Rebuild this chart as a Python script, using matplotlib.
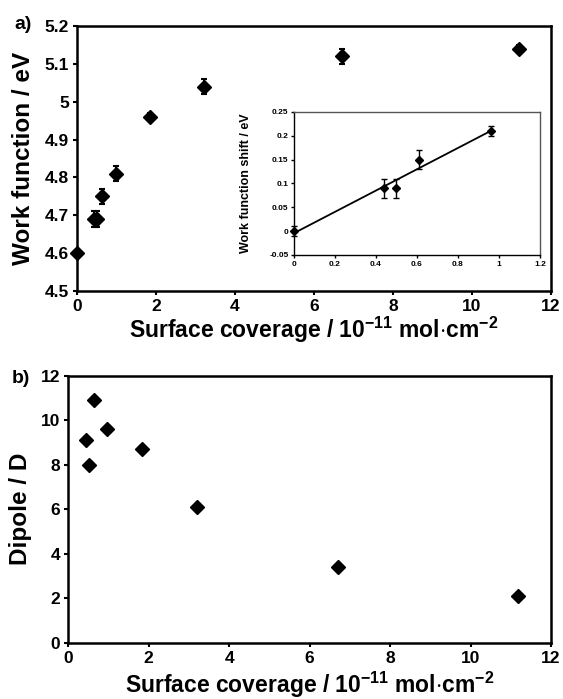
import numpy as np
import matplotlib
matplotlib.use("Agg")
import matplotlib.pyplot as plt
from matplotlib.ticker import FuncFormatter, MultipleLocator

plt.rcParams['font.family'] = ['Liberation Sans', 'DejaVu Sans']
plt.rcParams['font.weight'] = 'bold'
plt.rcParams['mathtext.fontset'] = 'custom'
plt.rcParams['mathtext.rm'] = 'Liberation Sans:bold'
plt.rcParams['mathtext.bf'] = 'Liberation Sans:bold'
plt.rcParams['mathtext.default'] = 'rm'

# panel a: work function vs surface coverage
coverage_a = [0.0, 0.44, 0.50, 0.63, 0.99, 1.84, 3.21, 6.71, 11.19]
work_function = [4.60, 4.69, 4.69, 4.75, 4.81, 4.96, 5.04, 5.12, 5.14]
work_function_err = [0.005, 0.02, 0.02, 0.02, 0.02, 0.01, 0.02, 0.02, 0.01]

# inset: work function shift vs coverage
coverage_inset = [0.0, 0.44, 0.50, 0.61, 0.96]
wf_shift = [0.0, 0.09, 0.09, 0.15, 0.21]
wf_shift_err = [0.01, 0.02, 0.02, 0.02, 0.01]

# panel b: dipole vs surface coverage
coverage_b = [0.45, 0.52, 0.63, 0.97, 1.84, 3.19, 6.70, 11.18]
dipole = [9.1, 8.0, 10.9, 9.6, 8.7, 6.1, 3.4, 2.1]

xlabel = r'Surface coverage / 10$^{-11}$ mol$\cdot$cm$^{-2}$'
fmt = FuncFormatter(lambda v, p: '%g' % round(v, 4))

fig = plt.figure(figsize=(5.63, 6.99), dpi=100)
ax_a = fig.add_axes([0.1368, 0.5837, 0.8419, 0.3791])
ax_b = fig.add_axes([0.1213, 0.0805, 0.8574, 0.3820])
ax_in = fig.add_axes([0.5222, 0.6352, 0.4369, 0.2046])

for ax in (ax_a, ax_b):
    for s in ax.spines.values():
        s.set_linewidth(1.8)
    ax.tick_params(direction='out', length=3, width=1.5, labelsize=12.5, pad=3)
    ax.xaxis.set_major_locator(MultipleLocator(2))
    ax.set_xlim(0, 12)
    ax.yaxis.set_major_formatter(fmt)

ax_a.errorbar(coverage_a, work_function, yerr=work_function_err, fmt='D', color='black',
              markersize=7.5, elinewidth=1.5, capsize=2.5, capthick=1.5, clip_on=False, zorder=3)
ax_a.set_ylim(4.5, 5.2)
ax_a.yaxis.set_major_locator(MultipleLocator(0.1))
ax_a.set_ylabel('Work function / eV', fontsize=17.5, fontweight='bold')
ax_a.set_xlabel(xlabel, fontsize=16.5, fontweight='bold')
ax_a.yaxis.set_label_coords(-0.088, 0.5)
ax_a.xaxis.set_label_coords(0.5, -0.088)
fig.text(0.026, 0.965, 'a)', fontsize=14, fontweight='bold', va='center')

ax_b.plot(coverage_b, dipole, 'D', color='black', markersize=7.5, clip_on=False, zorder=3)
ax_b.set_ylim(0, 12)
ax_b.yaxis.set_major_locator(MultipleLocator(2))
ax_b.set_ylabel('Dipole / D', fontsize=17.5, fontweight='bold')
ax_b.set_xlabel(xlabel, fontsize=16.5, fontweight='bold')
ax_b.yaxis.set_label_coords(-0.076, 0.5)
ax_b.xaxis.set_label_coords(0.5, -0.1)
fig.text(0.02, 0.459, 'b)', fontsize=14, fontweight='bold', va='center')

# inset with linear fit
slope, intercept = np.polyfit(coverage_inset, wf_shift, 1)
xfit = np.array([coverage_inset[0], coverage_inset[-1]])
ax_in.plot(xfit, slope * xfit + intercept, color='black', linewidth=1.3)
ax_in.errorbar(coverage_inset, wf_shift, yerr=wf_shift_err, fmt='D', color='black',
               markersize=4, elinewidth=1, capsize=2, capthick=1, clip_on=False, zorder=3)
ax_in.set_xlim(0, 1.2)
ax_in.set_ylim(-0.05, 0.25)
ax_in.xaxis.set_major_locator(MultipleLocator(0.2))
ax_in.yaxis.set_major_locator(MultipleLocator(0.05))
ax_in.xaxis.set_major_formatter(fmt)
ax_in.yaxis.set_major_formatter(fmt)
ax_in.tick_params(direction='out', length=2, width=1, labelsize=6, pad=2)
ax_in.set_ylabel('Work function shift / eV', fontsize=9, fontweight='bold')
ax_in.yaxis.set_label_coords(-0.17, 0.5)
for side, s in ax_in.spines.items():
    s.set_linewidth(1.0)
ax_in.spines['top'].set_color('#555555')
ax_in.spines['right'].set_color('#555555')

fig.savefig('out.png', dpi=100)
